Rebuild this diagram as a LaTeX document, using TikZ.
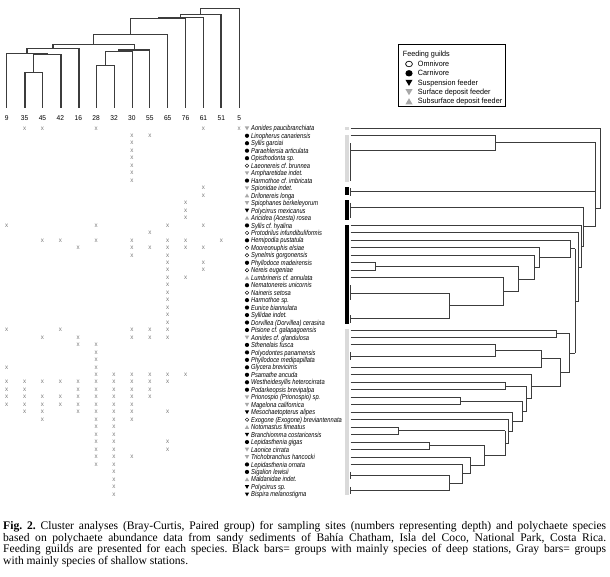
\documentclass[tikz,border=0pt]{standalone}
\usepackage{fontspec}
\setmainfont{Liberation Serif}
\newfontfamily\spf[FakeStretch=0.8]{Liberation Sans Italic}
\newfontfamily\lgf[FakeStretch=0.95]{Liberation Sans}
\definecolor{dgray}{HTML}{3C3C3C}
\definecolor{bargray}{HTML}{DADADA}
\definecolor{trigray}{HTML}{A8A8A8}
\definecolor{xgray}{HTML}{7A7A7A}
\newcommand\symC{\fill[black] (0,0) circle (2.1);}
\newcommand\symO{\draw[black, line width=0.45pt, fill=white] (0,0) circle (1.8);}
\newcommand\symS{\fill[black] (-2.2,-1.8) -- (2.2,-1.8) -- (0,2) -- cycle;}
\newcommand\symD{\fill[trigray] (-2.2,-1.8) -- (2.2,-1.8) -- (0,2) -- cycle;}
\newcommand\symB{\fill[trigray] (-2.2,1.8) -- (2.2,1.8) -- (0,-2) -- cycle;}
\tikzset{
  tl/.style={line width=1.1pt, draw=dgray},
  dl/.style={line width=0.9pt, draw=dgray},
  sp/.style={anchor=base west, inner sep=0pt, font=\spf\fontsize{7.2}{7.2}\selectfont},
  xm/.style={inner sep=0pt, text=xgray, font=\lgf\fontsize{6.5}{6.5}\selectfont},
  hd/.style={inner sep=0pt, font=\lgf\fontsize{7}{7}\selectfont},
  lg/.style={anchor=base west, inner sep=0pt, font=\lgf\fontsize{7.6}{7.6}\selectfont},
}
\begin{document}
\frenchspacing
\begin{tikzpicture}[x=1pt,y=-1pt]
\useasboundingbox (0,0) rectangle (610,577);
\fill[white] (0,0) rectangle (610,577);

% ---------- top dendrogram (sites) ----------
\draw[tl] (25,108) |- (42.7,72.3) -- (42.7,108);
\draw[tl] (33.8,72.3) |- (61,54.3) -- (61,108);
\draw[tl] (6.7,108) |- (47.4,53.3) -- (47.4,54.3);
\draw[tl] (27,53.3) |- (79,48.3) -- (79,108);
\draw[tl] (96.7,108) |- (114.3,65.7) -- (114.3,108);
\draw[tl] (105.5,65.7) |- (132.3,51.7) -- (132.3,108);
\draw[tl] (118.9,51.7) |- (149.7,50) -- (149.7,108);
\draw[tl] (53,48.3) |- (134.3,44.3) -- (134.3,50);
\draw[tl] (93.7,44.3) |- (167.7,34.3) -- (167.7,108);
\draw[tl] (130.7,34.3) |- (185.7,18.3) -- (185.7,108);
\draw[tl] (158.2,18.3) |- (203.3,17.7) -- (203.3,108);
\draw[tl] (180.8,17.7) |- (221,14.3) -- (221,108);
\draw[tl] (200.9,14.3) |- (239.3,8.3) -- (239.3,108);

\foreach \lab [count=\c] in {9,35,45,42,16,28,32,30,55,65,76,61,51,5}
  \node[hd] (h\c) at ({6.7+(\c-1)*17.89},118) {\lab};

% ---------- legend ----------
\draw[line width=0.6pt] (398.3,44) rectangle (505,106.7);
\node[lg] (lgt) at (402.7,56.5) {Feeding guilds};
\begin{scope}[shift={(409,64)}]\draw[line width=0.7pt] (0,0) ellipse (3.4 and 2.8);\end{scope}
\begin{scope}[shift={(409,73.3)}]\fill (0,0) ellipse (3.6 and 3.2);\end{scope}
\begin{scope}[shift={(409,82.7)},scale=1.6]\symS\end{scope}
\begin{scope}[shift={(409,92)},scale=1.6]\symD\end{scope}
\begin{scope}[shift={(409,101.4)},scale=1.6]\symB\end{scope}
\node[lg] (lg1) at (417.7,66.6) {Omnivore};
\node[lg] (lg2) at (417.7,75.9) {Carnivore};
\node[lg] (lg3) at (417.7,85.3) {Suspension feeder};
\node[lg] (lg4) at (417.7,94.6) {Surface deposit feeder};
\node[lg] (lg5) at (417.7,104) {Subsurface deposit feeder};

% ---------- species list ----------
\foreach \s/\n [count=\i] in {
D/Aonides paucibranchiata, C/Linopherus canariensis, C/Syllis garciai,
C/Paraehlersia articulata, C/Opisthodonta sp., O/Laeonereis cf. brunnea,
D/Ampharetidae indet., C/Harmothoe cf. imbricata, D/Spionidae indet.,
B/Drilonereis longa, D/Spiophanes berkeleyorum, S/Polycirrus mexicanus,
B/Aricidea (Acesta) rosea, C/Syllis cf. hyalina, O/Protodrilus infundibuliformis,
C/Hemipodia pustatula, O/Mooreonuphis elsiae, O/Synelmis gorgonensis,
C/Phyllodoce madeirensis, O/Nereis eugeniae, B/Lumbrineris cf. annulata,
C/Nematonereis unicornis, O/Naineris setosa, C/Harmothoe sp.,
C/Eunice biannulata, C/Syllidae indet., C/Dorvillea (Dorvillea) cerasina,
C/Pisione cf. galapagoensis, D/Aonides cf. glandulosa, C/Sthenelais fusca,
C/Polyodontes panamensis, C/Phyllodoce medipapillata, C/Glycera brevicirris,
C/Psamathe ancuda, C/Westheidesyllis heterocirrata, C/Podarkeopsis brevipalpa,
D/Prionospio (Prionospio) sp., D/Magelona californica, S/Mesochaetopterus alipes,
O/Exogone (Exogone) breviantennata, B/Notomastus fimeatus, S/Branchiomma costaricensis,
C/Lepidasthenia gigas, D/Laonice cirrata, D/Trichobranchus hancocki,
C/Lepidasthenia ornata, C/Sigalion lewisii, B/Maldanidae indet.,
S/Polycirrus sp., S/Bispira melanostigma}{
  \pgfmathsetmacro\yy{128.3+(\i-1)*7.47}
  \begin{scope}[shift={(247,\yy)}]\csname sym\s\endcsname\end{scope}
  \node[sp] (sp\i) at (251,\yy+2.6) {\n};
}

% ---------- presence matrix ----------
\foreach \r/\cs in {1/{2,3,6,12,14}, 2/{8,9}, 3/{8}, 4/{8}, 5/{8}, 6/{8}, 7/{8}, 8/{8},
  9/{12}, 10/{12}, 11/{11}, 12/{11}, 13/{11}, 14/{1,6,10,12}, 15/{9},
  16/{3,4,6,8,10,11,13}, 17/{5,8,9,10,11,12}, 18/{8,10}, 19/{10,12}, 20/{10,12},
  21/{10,11}, 22/{10}, 23/{10}, 24/{10}, 25/{10}, 26/{10}, 27/{10},
  28/{1,4,8,9,10}, 29/{3,5,8,9,10}, 30/{5,6}, 31/{6}, 32/{6}, 33/{1,6},
  34/{6,7,8,9,10,11}, 35/{1,2,3,4,5,6,7,8,9,10}, 36/{1,2,5,6,7,8,9},
  37/{1,2,3,4,5,6,7,8,9}, 38/{1,2,3,4,5,6,7,8}, 39/{2,3,5,6,7,8,10},
  40/{3,6,7,8}, 41/{6,7}, 42/{6,7}, 43/{6,7,10}, 44/{6,7,10}, 45/{6,7,8},
  46/{6,7}, 47/{7}, 48/{7}, 49/{7}, 50/{7}}{
  \pgfmathsetmacro\yy{128.3+(\r-1)*7.47}
  \foreach \c in \cs {
    \pgfmathsetmacro\xx{6.7+(\c-1)*17.89}
    \node[xm] (m\r-\c) at (\xx,\yy) {x};
  }
}

% ---------- group bars ----------
\fill[bargray] (344.5,126.8) rectangle (349,130.3);
\fill[bargray] (344.5,135) rectangle (349,181.7);
\fill[black] (344.5,187.5) rectangle (349,195.5);
\fill[black] (344.5,200) rectangle (349,220);
\fill[black] (344.5,225) rectangle (349,324);
\fill[bargray] (344.5,329.3) rectangle (349,495);

% ---------- right dendrogram (species) ----------
\draw[dl] (350.7,128.3) -- (600.7,128.3) -- (600.7,208.3) -- (595.7,208.3);
\draw[dl] (350.7,135.77) -- (495,135.77) -- (495,150) -- (350.7,150);
\draw[dl] (350.7,143.24) -- (350.7,180.59);
\draw[dl] (495,142.9) -- (595.7,142.9) -- (595.7,226.75) -- (583.3,226.75);
\draw[dl] (350.7,188.06) -- (350.7,195.53) (350.7,191.8) -- (595.7,191.8);
\draw[dl] (350.7,203) -- (350.7,217.94) (350.7,207.3) -- (583.3,207.3) -- (583.3,246.2) -- (581.7,246.2);
\draw[dl] (350.7,225.41) -- (581.7,225.41) -- (581.7,267) -- (578.3,267);
\draw[dl] (350.7,232.88) -- (578.3,232.88) -- (578.3,301.1) -- (575,301.1);
\draw[dl] (575,248.9) -- (575,353.3);
\draw[dl] (350.7,240.35) -- (570.7,240.35) -- (570.7,257.5) -- (539.3,257.5);
\draw[dl] (570.7,248.9) -- (575,248.9);
\draw[dl] (350.7,247.82) -- (539.3,247.82) -- (539.3,267.2) -- (534,267.2);
\draw[dl] (350.7,255.29) -- (534,255.29) -- (534,279.2) -- (518.3,279.2);
\draw[dl] (350.7,262.76) -- (375,262.76) -- (375,270.23) -- (350.7,270.23);
\draw[dl] (375,266.5) -- (518.3,266.5) -- (518.3,291.8) -- (503.3,291.8);
\draw[dl] (350.7,277.7) -- (503.3,277.7) -- (503.3,305.9) -- (449,305.9);
\draw[dl] (350.7,285.17) -- (350.7,300.11) (350.7,293) -- (449,293) -- (449,318.8) -- (350.7,318.8);
\draw[dl] (350.7,315.05) -- (350.7,322.52);
% bottom cluster
\draw[dl] (350.7,329.99) -- (556.7,329.99) -- (556.7,337.46) -- (350.7,337.46);
\draw[dl] (556.7,333.7) -- (569.3,333.7) -- (569.3,372.8) -- (560,372.8);
\draw[dl] (569.3,353.3) -- (575,353.3);
\draw[dl] (350.7,344.93) -- (495,344.93) -- (495,356.1) -- (350.7,356.1);
\draw[dl] (350.7,352.4) -- (350.7,359.87);
\draw[dl] (495,350.5) -- (541.7,350.5) -- (541.7,367.34) -- (350.7,367.34);
\draw[dl] (541.7,358.9) -- (560,358.9) -- (560,386.8) -- (531.7,386.8);
\draw[dl] (350.7,374.81) -- (531.7,374.81) -- (531.7,398.7) -- (526.7,398.7);
\draw[dl] (526.7,386) -- (526.7,411.4);
\draw[dl] (350.7,382.28) -- (505,382.28) -- (505,389.75) -- (350.7,389.75);
\draw[dl] (505,386) -- (526.7,386);
\draw[dl] (522,401) -- (522,421.8) (522,411.4) -- (526.7,411.4);
\draw[dl] (350.7,397.22) -- (460.7,397.22) -- (460.7,404.69) -- (350.7,404.69);
\draw[dl] (460.7,401) -- (522,401);
\draw[dl] (350.7,412.16) -- (512,412.16) -- (512,431.4) -- (508,431.4);
\draw[dl] (512,421.8) -- (522,421.8);
\draw[dl] (350.7,419.63) -- (508,419.63) -- (508,443.2) -- (505,443.2);
\draw[dl] (505,430.8) -- (505,455.6);
\draw[dl] (350.7,427.1) -- (398.3,427.1) -- (398.3,434.57) -- (350.7,434.57);
\draw[dl] (398.3,430.8) -- (505,430.8);
\draw[dl] (350.7,442.04) -- (429.3,442.04) -- (429.3,449.51) -- (350.7,449.51);
\draw[dl] (429.3,445.8) -- (484,445.8) -- (484,465.4) -- (470,465.4);
\draw[dl] (484,455.6) -- (505,455.6);
\draw[dl] (350.7,456.98) -- (470,456.98) -- (470,473.8) -- (462,473.8);
\draw[dl] (350.7,464.45) -- (462,464.45) -- (462,483.1) -- (449,483.1);
\draw[dl] (350.7,471.92) -- (350.7,479.39) (350.7,475.66) -- (449,475.66) -- (449,490.6) -- (350.7,490.6);
\draw[dl] (350.7,486.86) -- (350.7,494.33);

% ---------- caption ----------
\begin{scope}[every node/.style={anchor=base west, inner sep=0pt, font=\fontsize{11.6}{12}\selectfont}]
\node (cap1) at (3,529.5) {\makebox[603pt][s]{\textbf{Fig. 2.} Cluster analyses (Bray-Curtis, Paired group) for sampling sites (numbers representing depth) and polychaete species}};
\node (cap2) at (3,541.2) {\makebox[603pt][s]{based on polychaete abundance data from sandy sediments of Bahía Chatham, Isla del Coco, National Park, Costa Rica.}};
\node (cap3) at (3,552.9) {\makebox[603pt][s]{Feeding guilds are presented for each species. Black bars= groups with mainly species of deep stations, Gray bars= groups}};
\node (cap4) at (3,564.6) {with mainly species of shallow stations.};
\end{scope}
\end{tikzpicture}
\end{document}
